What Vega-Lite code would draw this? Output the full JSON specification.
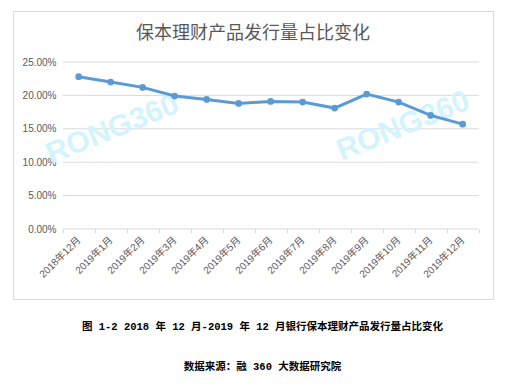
{
  "$schema": "https://vega.github.io/schema/vega-lite/v6.json",
  "width": 480,
  "height": 288,
  "autosize": "none",
  "padding": {"left": 13, "top": 11, "right": 21, "bottom": 85},
  "background": "white",
  "config": {
    "view": {"stroke": "#d9d9d9", "strokeWidth": 1},
    "font": "Liberation Sans, Noto Sans CJK SC"
  },
  "title": {
    "text": "保本理财产品发行量占比变化",
    "font": "Noto Sans CJK SC",
    "fontSize": 18,
    "fontWeight": "normal",
    "color": "#595959",
    "anchor": "middle",
    "baseline": "middle",
    "offset": 0,
    "dy": 41
  },
  "datasets": {
    "series": [
      {"m": "2018年12月", "v": 0.228},
      {"m": "2019年1月", "v": 0.220},
      {"m": "2019年2月", "v": 0.212},
      {"m": "2019年3月", "v": 0.199},
      {"m": "2019年4月", "v": 0.194},
      {"m": "2019年5月", "v": 0.188},
      {"m": "2019年6月", "v": 0.191},
      {"m": "2019年7月", "v": 0.190},
      {"m": "2019年8月", "v": 0.181},
      {"m": "2019年9月", "v": 0.202},
      {"m": "2019年10月", "v": 0.190},
      {"m": "2019年11月", "v": 0.170},
      {"m": "2019年12月", "v": 0.157}
    ],
    "grid": [
      {"v": 0}, {"v": 0.05}, {"v": 0.1}, {"v": 0.15}, {"v": 0.2}, {"v": 0.25}
    ],
    "wm1": [
      {"m": "2019年1月", "v": 0.148, "w": "RONG360"}
    ],
    "wm2": [
      {"m": "2019年10月", "v": 0.151, "w": "RONG360"}
    ]
  },
  "layer": [
    {
      "data": {"name": "grid"},
      "mark": {"type": "rule", "color": "#d9d9d9", "strokeWidth": 1},
      "encoding": {
        "y": {"field": "v", "type": "quantitative",
              "scale": {"domain": [-0.10479, 0.32635], "nice": false, "zero": false},
              "axis": {
                "values": [0, 0.05, 0.1, 0.15, 0.2, 0.25],
                "format": ".2%",
                "title": null,
                "grid": false,
                "domain": false,
                "ticks": false,
                "tickSize": 0,
                "offset": -45,
                "labelPadding": 2,
                "labelFontSize": 10,
                "labelColor": "#595959"
              }},
        "x": {"datum": "2018年12月", "type": "ordinal", "bandPosition": 0,
              "scale": {"type": "band", "domain": ["2018年12月","2019年1月","2019年2月","2019年3月","2019年4月","2019年5月","2019年6月","2019年7月","2019年8月","2019年9月","2019年10月","2019年11月","2019年12月"], "paddingInner": 0, "paddingOuter": 1.0535, "align": 0.776},
              "axis": {
                "title": ["图 1-2 2018 年 12 月-2019 年 12 月银行保本理财产品发行量占比变化", "数据来源：融 360 大数据研究院"],
                "titleFont": "Liberation Mono, Noto Sans CJK SC",
                "titleFontSize": 10.5,
                "titleFontWeight": "bold",
                "titleColor": "#000000",
                "titleLineHeight": 40,
                "titleX": 249,
                "titleY": 92,
                "titleAlign": "center",
                "titleBaseline": "top",
                "offset": -70,
                "domain": false,
                "grid": false,
                "tickBand": "extent",
                "tickColor": "#d9d9d9",
                "tickSize": 4,
                "labelAngle": -45,
                "labelAlign": "right",
                "labelBaseline": "middle",
                "labelFontSize": 10,
                "labelColor": "#595959",
                "labelPadding": 5,
                "labelOverlap": false
              }},
        "x2": {"datum": "2019年12月", "bandPosition": 1}
      }
    },
    {
      "data": {"name": "wm1"},
      "mark": {"type": "text", "fontSize": 30, "fontWeight": "bold", "font": "Liberation Sans", "angle": -22, "color": "#d4f4fd", "align": "center", "baseline": "middle", "dx": 2},
      "encoding": {
        "x": {"field": "m", "type": "ordinal",
              "scale": {"type": "band", "domain": ["2018年12月","2019年1月","2019年2月","2019年3月","2019年4月","2019年5月","2019年6月","2019年7月","2019年8月","2019年9月","2019年10月","2019年11月","2019年12月"], "paddingInner": 0, "paddingOuter": 1.0535, "align": 0.776}},
        "y": {"field": "v", "type": "quantitative",
              "scale": {"domain": [-0.10479, 0.32635], "nice": false, "zero": false}},
        "text": {"field": "w"}
      }
    },
    {
      "data": {"name": "wm2"},
      "mark": {"type": "text", "fontSize": 30, "fontWeight": "bold", "font": "Liberation Sans", "angle": -22, "color": "#d4f4fd", "align": "center", "baseline": "middle", "dx": 5},
      "encoding": {
        "x": {"field": "m", "type": "ordinal",
              "scale": {"type": "band", "domain": ["2018年12月","2019年1月","2019年2月","2019年3月","2019年4月","2019年5月","2019年6月","2019年7月","2019年8月","2019年9月","2019年10月","2019年11月","2019年12月"], "paddingInner": 0, "paddingOuter": 1.0535, "align": 0.776}},
        "y": {"field": "v", "type": "quantitative",
              "scale": {"domain": [-0.10479, 0.32635], "nice": false, "zero": false}},
        "text": {"field": "w"}
      }
    },
    {
      "data": {"name": "series"},
      "mark": {"type": "line", "color": "#5b9bd5", "strokeWidth": 3,
               "point": {"filled": true, "size": 45, "color": "#5b9bd5"}},
      "encoding": {
        "x": {"field": "m", "type": "ordinal",
              "scale": {"type": "band", "domain": ["2018年12月","2019年1月","2019年2月","2019年3月","2019年4月","2019年5月","2019年6月","2019年7月","2019年8月","2019年9月","2019年10月","2019年11月","2019年12月"], "paddingInner": 0, "paddingOuter": 1.0535, "align": 0.776}},
        "y": {"field": "v", "type": "quantitative",
              "scale": {"domain": [-0.10479, 0.32635], "nice": false, "zero": false}}
      }
    }
  ]
}
